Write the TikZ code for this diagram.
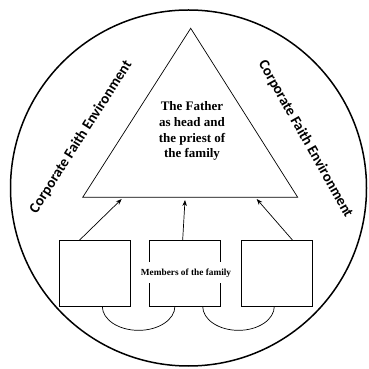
\documentclass[tikz,border=0pt]{standalone}
\usepackage{fontspec}
\setmainfont{Liberation Serif}
\newfontfamily\labelfont{Carlito}
\usetikzlibrary{arrows.meta,calc,positioning}
\tikzset{
  >={Stealth[length=6pt,width=4.5pt]},
  every picture/.style={line join=miter},
  member/.style={draw=black, line width=0.7pt, minimum width=71.4pt, minimum height=65.3pt, inner sep=0pt},
  envlbl/.style={font=\labelfont\bfseries\fontsize{14.8}{16}\selectfont},
  headlbl/.style={font=\bfseries\fontsize{13}{15.8}\selectfont, align=center},
  memberlbl/.style={font=\bfseries\fontsize{9.3}{10}\selectfont, fill=white, inner xsep=9pt, minimum height=21pt},
  link/.style={line width=0.7pt, ->},
  bond/.style={line width=0.7pt},
}
\begin{document}
\begin{tikzpicture}[x=1pt, y=1pt]
\useasboundingbox (0,0) rectangle (368,369);
% the surrounding environment
\draw[line width=1.5pt] (188.5,181) circle[radius=178pt];
\node[envlbl, rotate=57.5] (envL) at (81,232) {Corporate Faith Environment};
\node[envlbl, rotate=-60.5] (envR) at (305.5,230) {Corporate Faith Environment};
% the father
\coordinate (apex) at (190.7,340.7);
\coordinate (baseL) at (82.7,171.7);
\coordinate (baseR) at (297.7,171.7);
\draw[line width=0.7pt] (apex) -- (baseL) -- (baseR) -- cycle;
\node[headlbl] (head) at (192,238) {The Father\\as head and\\the priest of\\the family};
% the members
\node[member] (boxL) at (95,95.65) {};
\node[member] (boxM) at (184.65,95.65) {};
\node[member] (boxR) at (277,95.65) {};
\node[memberlbl] (members) at (186,96) {Members of the family};
\coordinate (tipL) at (121.7,170);
\coordinate (tipM) at (185,169);
\coordinate (tipR) at (256.7,170);
\draw[link] ([xshift=-15.7pt]boxL.north) -- (tipL);
\draw[link] ([xshift=-2pt]boxM.north) -- (tipM);
\draw[link] ([xshift=15.7pt]boxR.north) -- (tipR);
\draw[bond] ([xshift=7.3pt]boxL.south) arc[start angle=180, end angle=360, x radius=36.3pt, y radius=24pt];
\draw[bond] ([xshift=18.05pt]boxM.south) arc[start angle=180, end angle=360, x radius=35.8pt, y radius=24pt];
\end{tikzpicture}
\end{document}
